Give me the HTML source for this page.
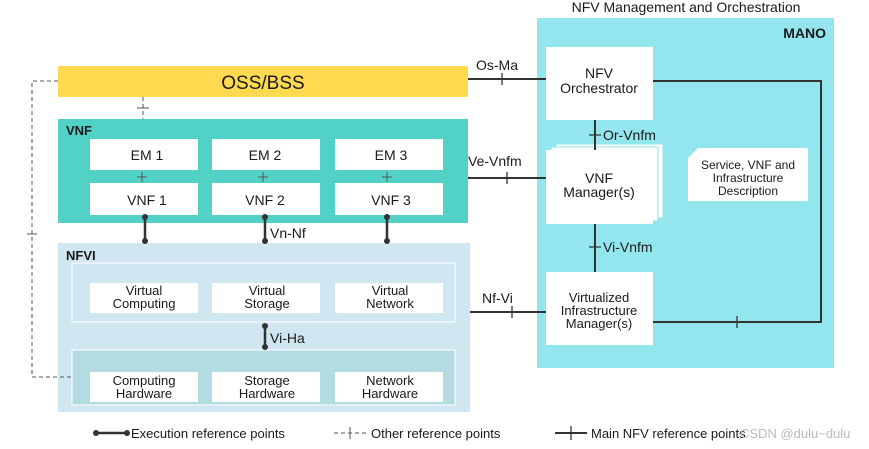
<!DOCTYPE html>
<html><head><meta charset="utf-8"><style>
body{margin:0;width:869px;height:444px;background:#fff;overflow:hidden;font-family:"Liberation Sans",sans-serif}
svg text{font-family:"Liberation Sans",sans-serif;fill:#1a1a1a}
</style></head><body>
<svg width="869" height="444" viewBox="0 0 869 444" xmlns="http://www.w3.org/2000/svg">
<text x="686" y="12" font-size="14" text-anchor="middle">NFV Management and Orchestration</text>
<rect x="537" y="18" width="297" height="350" fill="#93E6EE"/>
<text x="826" y="38" font-size="14" font-weight="bold" text-anchor="end">MANO</text>
<rect x="58" y="66" width="410" height="31" fill="#FFD94F"/>
<text x="263" y="89" font-size="19" text-anchor="middle">OSS/BSS</text>
<rect x="58" y="119" width="410" height="104" fill="#52D1C6"/>
<text x="66" y="135" font-size="13" font-weight="bold">VNF</text>
<g fill="#fff"><rect x="90" y="139" width="108" height="31"/><rect x="212" y="139" width="108" height="31"/><rect x="335" y="139" width="108" height="31"/>
<rect x="90" y="183" width="108" height="32"/><rect x="212" y="183" width="108" height="32"/><rect x="335" y="183" width="108" height="32"/></g>
<g font-size="14" text-anchor="middle"><text x="147" y="160">EM 1</text><text x="265" y="160">EM 2</text><text x="391" y="160">EM 3</text>
<text x="147" y="205">VNF 1</text><text x="265" y="205">VNF 2</text><text x="391" y="205">VNF 3</text></g>
<g stroke="#555" stroke-width="1"><path d="M137 177h10M142 172v10M258 177h10M263 172v10M382 177h10M387 172v10"/></g>
<rect x="58" y="243" width="412" height="169" fill="#D0E6F0"/>
<text x="66" y="260" font-size="13" font-weight="bold">NFVI</text>
<rect x="72" y="263" width="383" height="59" fill="#D0E6F0" stroke="#fff" stroke-width="1"/>
<rect x="72" y="350" width="383" height="55" fill="#B3DCE2" stroke="#fff" stroke-width="1"/>
<g fill="#fff"><rect x="90" y="283" width="108" height="30"/><rect x="212" y="283" width="108" height="30"/><rect x="335" y="283" width="108" height="30"/>
<rect x="90" y="372" width="108" height="30"/><rect x="212" y="372" width="108" height="30"/><rect x="335" y="372" width="108" height="30"/></g>
<g font-size="13" text-anchor="middle"><text x="144" y="295">Virtual</text><text x="144" y="308">Computing</text>
<text x="267" y="295">Virtual</text><text x="267" y="308">Storage</text>
<text x="390" y="295">Virtual</text><text x="390" y="308">Network</text>
<text x="144" y="385">Computing</text><text x="144" y="398">Hardware</text>
<text x="267" y="385">Storage</text><text x="267" y="398">Hardware</text>
<text x="390" y="385">Network</text><text x="390" y="398">Hardware</text></g>
<g stroke="#333" stroke-width="2.5" fill="#333"><path d="M145 217v24M265 217v24M387 217v24M265 326v21"/></g>
<g fill="#333"><circle cx="145" cy="217" r="3"/><circle cx="145" cy="241" r="3"/><circle cx="265" cy="217" r="3"/><circle cx="265" cy="241" r="3"/><circle cx="387" cy="217" r="3"/><circle cx="387" cy="241" r="3"/><circle cx="265" cy="326" r="3"/><circle cx="265" cy="347" r="3"/></g>
<text x="270" y="238" font-size="14">Vn-Nf</text>
<text x="270" y="343" font-size="14">Vi-Ha</text>
<g stroke="#555" stroke-width="1" fill="none" stroke-dasharray="4,3"><path d="M58 81H32V377H72M143 97V119"/></g>
<path d="M137 108h12M27 234h10" stroke="#555"/>
<rect x="546" y="47" width="107" height="73" fill="#fff"/>
<text x="599" y="78" font-size="14" text-anchor="middle">NFV</text><text x="599" y="93" font-size="14" text-anchor="middle">Orchestrator</text>
<rect x="556" y="144" width="107" height="74" fill="#fff" stroke="#93E6EE"/>
<rect x="551" y="147" width="107" height="74" fill="#fff" stroke="#93E6EE"/>
<rect x="546" y="150" width="107" height="74" fill="#fff"/>
<text x="599" y="183" font-size="14" text-anchor="middle">VNF</text><text x="599" y="197" font-size="14" text-anchor="middle">Manager(s)</text>
<path d="M698 148H808V201H688V158Z" fill="#fff"/>
<g font-size="12" text-anchor="middle"><text x="748" y="169">Service, VNF and</text><text x="748" y="182">Infrastructure</text><text x="748" y="195">Description</text></g>
<rect x="546" y="272" width="107" height="73" fill="#fff"/>
<g font-size="13" text-anchor="middle"><text x="599" y="302">Virtualized</text><text x="599" y="315">Infrastructure</text><text x="599" y="328">Manager(s)</text></g>
<g stroke="#333" stroke-width="2" fill="none"><path d="M468 79H546M468 178H546M470 312H546M653 81H821V322H653M595 120V150M595 224V272"/></g>
<g stroke="#333" stroke-width="1.3"><path d="M502 73v12M507 172v12M512 306v12M737 316v12M589 135h12M589 247h12"/></g>
<g font-size="14"><text x="476" y="70">Os-Ma</text><text x="468" y="166">Ve-Vnfm</text><text x="603" y="140">Or-Vnfm</text><text x="603" y="252">Vi-Vnfm</text><text x="482" y="303">Nf-Vi</text></g>
<g stroke="#333" stroke-width="2.5"><path d="M96 433H127"/></g>
<circle cx="96" cy="433" r="3" fill="#333"/><circle cx="127" cy="433" r="3" fill="#333"/>
<text x="131" y="438" font-size="13">Execution reference points</text>
<path d="M334 433H367" stroke="#555" stroke-dasharray="4,3"/><path d="M350 427v12" stroke="#555"/>
<text x="371" y="438" font-size="13">Other reference points</text>
<path d="M555 433H587" stroke="#333" stroke-width="2"/><path d="M571 426v14" stroke="#333" stroke-width="1.3"/>
<text x="591" y="438" font-size="13">Main NFV reference points</text>
<text x="740" y="438" font-size="13" style="fill:#bbb">CSDN @dulu~dulu</text>
</svg>
</body></html>
